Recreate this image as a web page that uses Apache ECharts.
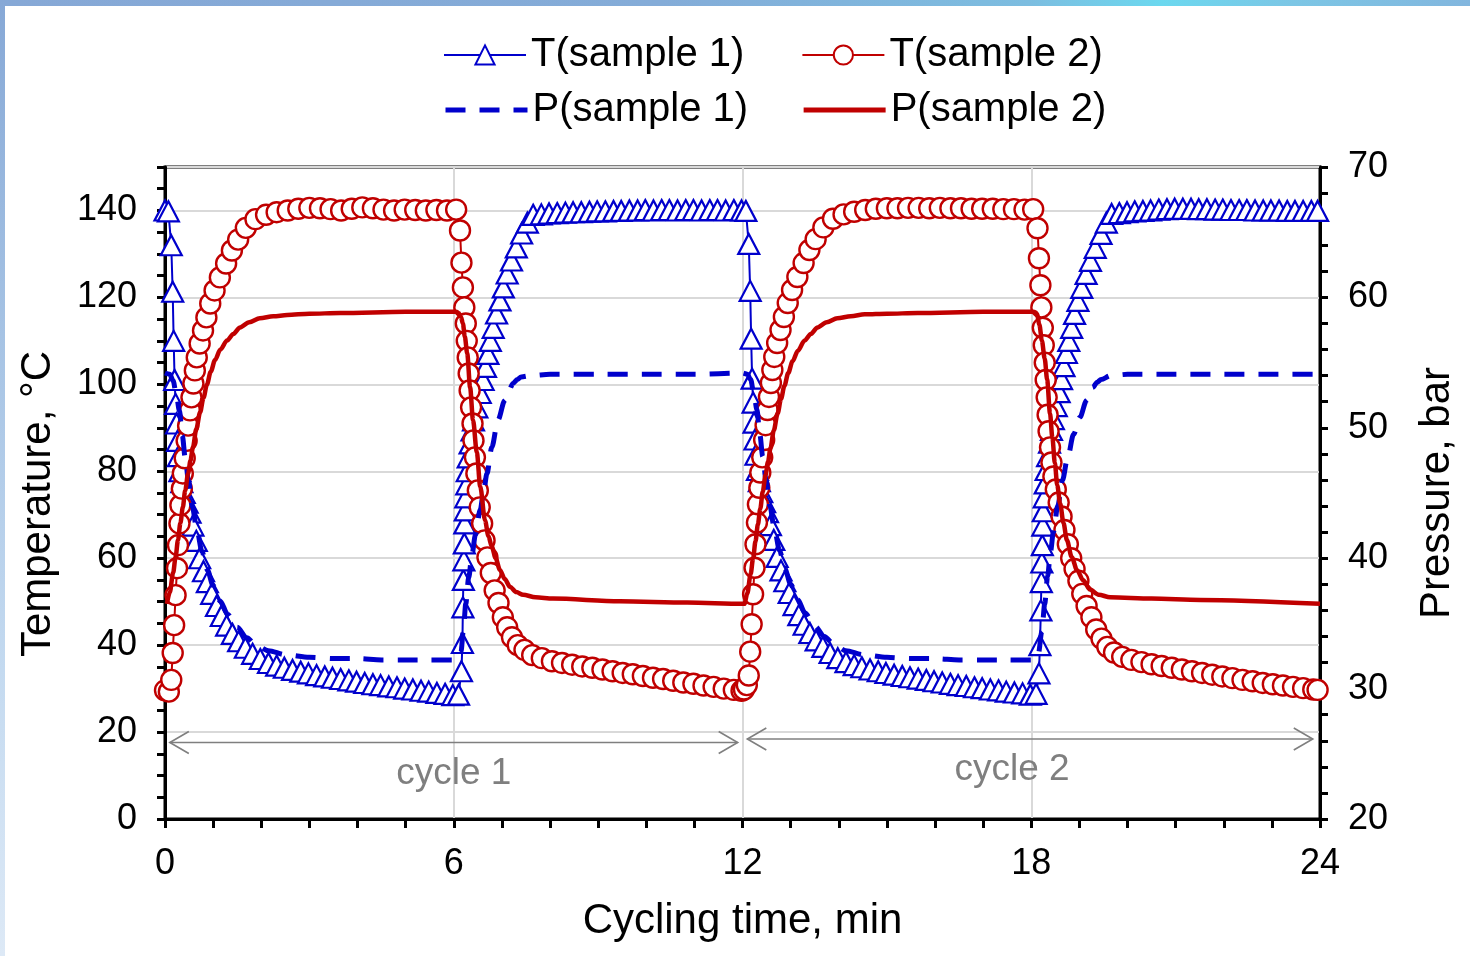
<!DOCTYPE html>
<html>
<head>
<meta charset="utf-8">
<title>Cycling test</title>
<script src="https://cdn.jsdelivr.net/npm/echarts@6/dist/echarts.min.js"></script>
<style>
  html, body { margin: 0; padding: 0; background: #fff; }
  #frame { position: relative; width: 1470px; height: 956px; overflow: hidden; background: #fff; }
  #topband { position: absolute; left: 0; top: 0; width: 1470px; height: 6px;
    background: linear-gradient(90deg, #86a8d6 0%, #84acd8 45%, #7cbde0 70%, #6bd8ef 79%, #7cc6e5 88%, #82b6de 100%); }
  #leftband { position: absolute; left: 0; top: 0; width: 5px; height: 956px;
    background: linear-gradient(180deg, #86a8d6 0%, #a6c3e4 35%, #c4daf0 70%, #dde9f6 100%); }
  #chart { position: absolute; left: 0; top: 0; width: 1470px; height: 956px; }
</style>
</head>
<body>
<div id="frame">
  <div id="topband"></div>
  <div id="leftband"></div>
  <div id="chart"></div>
</div>
<script>
// Temperature of sample 1, [time in min, °C]
const tempSample1 = [
  [0.00,140.0],[0.07,139.8],[0.13,132.0],[0.16,121.3],[0.18,110.0],[0.20,101.0],[0.22,95.5],[0.24,91.0],
  [0.26,87.0],[0.28,83.5],[0.31,80.0],[0.35,77.5],[0.40,75.0],[0.46,72.8],[0.52,70.5],[0.58,67.5],
  [0.65,64.0],[0.72,60.0],[0.80,57.0],[0.88,54.5],[0.97,51.8],[1.07,49.0],[1.17,46.7],[1.28,44.5],
  [1.40,42.6],[1.53,40.9],[1.67,39.4],[1.82,38.0],[1.98,36.8],[2.15,35.9],[2.32,35.3],[2.48,34.8],
  [2.65,34.3],[2.82,33.9],[2.98,33.5],[3.15,33.1],[3.32,32.8],[3.48,32.5],[3.65,32.2],[3.82,31.9],
  [3.98,31.6],[4.15,31.3],[4.32,31.0],[4.48,30.8],[4.65,30.5],[4.82,30.3],[4.98,30.0],[5.15,29.8],
  [5.32,29.5],[5.48,29.3],[5.65,29.0],[5.82,28.8],[5.98,28.5],
  [6.10,28.6],[6.16,34.0],[6.18,40.5],[6.19,48.7],[6.20,55.0],[6.21,59.5],[6.22,63.4],[6.23,68.0],
  [6.24,71.0],[6.25,74.0],[6.27,77.0],[6.28,80.0],[6.30,83.2],[6.34,86.4],[6.38,89.4],[6.41,91.7],
  [6.48,94.7],[6.55,98.0],[6.61,101.0],[6.66,104.0],[6.71,107.0],[6.76,110.0],[6.82,113.0],[6.89,116.3],
  [6.96,119.3],[7.03,122.3],[7.11,125.5],[7.20,128.5],[7.30,131.5],[7.41,134.7],[7.53,137.2],[7.65,139.0],
  [7.82,139.1],[7.98,139.3],[8.15,139.4],[8.32,139.5],[8.48,139.6],[8.65,139.6],[8.82,139.7],[8.98,139.8],
  [9.15,139.8],[9.32,139.9],[9.48,139.9],[9.65,140.0],[9.82,140.0],[9.98,140.1],[10.15,140.0],[10.32,140.1],
  [10.48,140.1],[10.65,140.0],[10.82,140.1],[10.98,140.1],[11.15,140.0],[11.32,140.1],[11.48,140.1],[11.65,140.0],
  [11.82,140.1],[11.98,140.0],
  [12.07,139.9],[12.13,132.3],[12.16,121.5],[12.18,110.5],[12.20,101.3],[12.22,95.8],[12.24,91.2],[12.26,87.3],
  [12.28,83.8],[12.31,80.3],[12.35,77.7],[12.40,75.2],[12.46,72.9],[12.52,70.6],[12.58,67.6],[12.65,64.2],
  [12.72,60.3],[12.80,57.2],[12.88,54.7],[12.97,52.0],[13.07,49.2],[13.17,46.9],[13.28,44.7],[13.40,42.8],
  [13.53,41.1],[13.67,39.6],[13.82,38.2],[13.98,37.0],[14.15,36.1],[14.32,35.4],[14.48,34.9],[14.65,34.4],
  [14.82,34.0],[14.98,33.6],[15.15,33.2],[15.32,32.9],[15.48,32.6],[15.65,32.3],[15.82,32.0],[15.98,31.7],
  [16.15,31.4],[16.32,31.1],[16.48,30.8],[16.65,30.6],[16.82,30.3],[16.98,30.1],[17.15,29.8],[17.32,29.6],
  [17.48,29.3],[17.65,29.1],[17.82,28.9],[17.98,28.6],
  [18.10,28.8],[18.16,33.5],[18.18,40.0],[18.20,48.0],[18.21,54.5],[18.22,59.0],[18.23,63.0],[18.24,67.5],
  [18.25,70.8],[18.27,74.0],[18.29,77.2],[18.31,80.3],[18.34,83.5],[18.38,86.6],[18.42,89.5],[18.46,92.0],
  [18.52,95.0],[18.58,98.2],[18.63,101.2],[18.68,104.2],[18.73,107.2],[18.78,110.0],[18.84,113.0],[18.90,116.2],
  [18.97,119.2],[19.05,122.2],[19.14,125.4],[19.23,128.4],[19.33,131.4],[19.45,134.6],[19.56,137.2],[19.67,139.2],
  [19.83,139.4],[19.99,139.6],[20.15,139.8],[20.32,139.9],[20.48,140.0],[20.65,140.2],[20.82,140.3],[20.98,140.4],
  [21.15,140.4],[21.32,140.4],[21.48,140.3],[21.65,140.3],[21.82,140.2],[21.98,140.2],[22.15,140.1],[22.32,140.1],
  [22.48,140.1],[22.65,140.0],[22.82,140.0],[22.98,140.0],[23.15,140.0],[23.32,139.9],[23.48,139.9],[23.65,139.9],
  [23.82,139.9],[23.95,139.9]
];

// Temperature of sample 2, [time in min, °C]
const tempSample2 = [
  [0.00,29.6],[0.08,29.3],[0.13,32.0],[0.16,38.2],[0.19,44.6],[0.22,51.5],[0.25,57.7],[0.27,63.0],
  [0.30,68.0],[0.32,72.2],[0.35,76.0],[0.37,79.5],[0.41,83.0],[0.45,87.0],[0.48,90.5],[0.52,94.0],
  [0.55,97.0],[0.59,100.2],[0.62,103.2],[0.66,106.2],[0.72,109.4],[0.79,112.4],[0.86,115.4],[0.94,118.6],
  [1.03,121.6],[1.14,124.6],[1.27,127.8],[1.39,130.8],[1.52,133.3],[1.68,136.0],[1.88,138.0],[2.10,139.0],
  [2.32,139.6],[2.55,140.0],[2.77,140.4],[3.00,140.6],[3.22,140.5],[3.44,140.3],[3.66,140.0],[3.88,140.4],
  [4.10,140.7],[4.32,140.5],[4.54,140.2],[4.76,140.0],[4.98,140.2],[5.20,140.1],[5.42,140.0],[5.64,140.1],
  [5.86,140.0],[6.05,140.2],
  [6.13,135.4],[6.16,128.0],[6.19,122.3],[6.22,117.7],[6.25,114.0],[6.27,110.0],[6.29,106.2],[6.31,102.5],
  [6.33,98.6],[6.36,94.7],[6.39,91.0],[6.41,87.1],[6.44,83.2],[6.47,79.5],[6.50,75.6],[6.54,71.7],
  [6.59,68.0],[6.64,64.1],[6.70,60.2],[6.77,56.6],[6.85,52.6],[6.93,49.7],[7.02,46.4],[7.11,44.1],
  [7.21,41.8],[7.33,40.0],[7.47,38.9],[7.63,37.7],[7.83,37.0],[8.04,36.3],[8.25,35.9],[8.46,35.5],
  [8.67,35.1],[8.88,34.8],[9.09,34.4],[9.30,34.0],[9.51,33.6],[9.72,33.3],[9.93,32.9],[10.14,32.5],
  [10.35,32.2],[10.56,31.8],[10.77,31.4],[10.98,31.1],[11.19,30.7],[11.40,30.4],[11.61,30.0],[11.82,29.7],
  [11.98,29.5],
  [12.03,29.8],[12.09,30.8],[12.13,33.0],[12.16,38.5],[12.19,44.8],[12.22,51.7],[12.25,57.8],[12.27,63.2],
  [12.30,68.2],[12.32,72.4],[12.35,76.2],[12.37,79.7],[12.41,83.2],[12.45,87.2],[12.48,90.6],[12.52,94.1],
  [12.55,97.1],[12.59,100.3],[12.62,103.3],[12.66,106.3],[12.72,109.5],[12.79,112.5],[12.86,115.5],[12.94,118.7],
  [13.03,121.7],[13.14,124.7],[13.27,127.9],[13.39,130.9],[13.52,133.4],[13.68,136.1],[13.88,138.1],[14.10,139.1],
  [14.32,139.7],[14.55,140.1],[14.77,140.4],[15.00,140.5],[15.22,140.5],[15.44,140.6],[15.66,140.6],[15.88,140.5],
  [16.10,140.6],[16.32,140.5],[16.54,140.5],[16.76,140.4],[16.98,140.4],[17.20,140.4],[17.42,140.3],[17.64,140.3],
  [17.86,140.2],[18.04,140.3],
  [18.13,135.9],[18.16,129.0],[18.19,122.8],[18.21,117.7],[18.24,113.0],[18.26,109.0],[18.28,105.0],[18.30,101.0],
  [18.32,97.0],[18.34,93.0],[18.36,89.2],[18.39,85.5],[18.42,82.0],[18.46,78.8],[18.51,75.8],[18.57,72.8],
  [18.63,69.6],[18.69,66.5],[18.76,63.2],[18.83,60.0],[18.90,57.5],[18.98,54.8],[19.06,51.8],[19.15,49.0],
  [19.25,46.4],[19.35,43.6],[19.46,41.5],[19.58,39.6],[19.72,38.3],[19.89,37.3],[20.08,36.6],[20.29,36.1],
  [20.50,35.6],[20.71,35.2],[20.92,34.8],[21.13,34.4],[21.34,34.0],[21.55,33.6],[21.76,33.2],[21.97,32.8],
  [22.18,32.4],[22.39,32.0],[22.60,31.7],[22.81,31.3],[23.02,31.0],[23.23,30.7],[23.44,30.4],[23.65,30.1],
  [23.86,29.8],[23.95,29.7]
];

// Pressure of sample 1, [time in min, bar]
const pressSample1 = [
  [0.00,54.2],[0.10,54.1],[0.17,53.6],[0.24,52.4],[0.30,51.3],[0.36,49.4],[0.42,47.7],[0.49,45.9],
  [0.57,43.9],[0.66,42.2],[0.77,40.5],[0.88,39.1],[1.00,37.9],[1.15,36.7],[1.30,35.7],[1.50,34.7],
  [1.70,33.9],[1.90,33.3],[2.15,32.9],[2.50,32.6],[3.00,32.4],[3.50,32.3],[4.00,32.3],[4.50,32.2],
  [5.00,32.2],[5.50,32.2],[6.00,32.2],
  [6.08,32.2],[6.15,32.8],[6.20,34.5],[6.25,36.5],[6.31,38.5],[6.38,40.3],[6.45,41.8],[6.55,43.7],
  [6.62,45.1],[6.69,46.5],[6.79,48.5],[6.92,50.6],[7.06,52.1],[7.15,52.9],[7.23,53.4],[7.32,53.7],
  [7.40,53.9],[7.60,54.0],[8.00,54.1],[9.00,54.1],[10.00,54.1],[11.00,54.1],[12.00,54.2],
  [12.10,54.1],[12.17,53.7],[12.24,52.5],[12.30,51.4],[12.36,49.5],[12.42,47.8],[12.49,46.0],[12.57,44.0],
  [12.66,42.3],[12.77,40.6],[12.88,39.2],[13.00,38.0],[13.15,36.8],[13.30,35.8],[13.50,34.8],[13.70,34.0],
  [13.90,33.4],[14.15,32.9],[14.50,32.6],[15.00,32.4],[15.50,32.3],[16.00,32.3],[16.50,32.2],[17.00,32.2],
  [17.50,32.2],[18.00,32.2],
  [18.08,32.2],[18.15,32.7],[18.22,34.4],[18.28,36.5],[18.34,38.6],[18.40,40.5],[18.46,42.0],[18.55,44.0],
  [18.65,46.0],[18.75,47.6],[18.88,49.5],[19.01,50.8],[19.15,52.1],[19.28,53.1],[19.37,53.5],[19.45,53.7],
  [19.65,54.0],[20.00,54.1],[21.00,54.1],[22.00,54.1],[23.00,54.1],[24.00,54.1]
];

// Pressure of sample 2, [time in min, bar]
const pressSample2 = [
  [0.04,36.5],[0.10,37.4],[0.17,38.9],[0.22,40.1],[0.27,41.4],[0.32,42.7],[0.37,43.9],[0.42,45.2],
  [0.48,46.5],[0.53,47.5],[0.58,48.5],[0.65,49.9],[0.73,51.2],[0.80,52.3],[0.87,53.3],[0.95,54.3],
  [1.04,55.2],[1.15,56.0],[1.29,56.7],[1.42,57.2],[1.56,57.7],[1.75,58.1],[1.97,58.4],[2.25,58.55],
  [2.54,58.65],[3.00,58.75],[3.64,58.8],[5.00,58.9],[6.05,58.9],
  [6.10,58.8],[6.15,58.5],[6.19,58.0],[6.23,57.0],[6.28,55.7],[6.34,53.1],[6.40,50.6],[6.48,48.1],
  [6.55,45.5],[6.65,42.9],[6.72,41.7],[6.79,40.9],[6.87,40.0],[6.96,39.1],[7.06,38.4],[7.17,37.8],
  [7.30,37.4],[7.44,37.2],[7.70,37.0],[8.06,36.9],[9.45,36.7],[10.85,36.6],[12.00,36.5],
  [12.04,36.5],[12.10,37.3],[12.17,38.8],[12.22,40.0],[12.27,41.3],[12.32,42.6],[12.37,43.8],[12.42,45.1],
  [12.48,46.4],[12.53,47.4],[12.58,48.4],[12.65,49.8],[12.73,51.1],[12.80,52.2],[12.87,53.2],[12.95,54.2],
  [13.04,55.1],[13.15,55.9],[13.29,56.7],[13.42,57.2],[13.56,57.7],[13.75,58.1],[13.97,58.4],[14.25,58.55],
  [14.54,58.7],[15.00,58.75],[15.64,58.8],[17.00,58.9],[18.05,58.9],
  [18.09,58.85],[18.12,58.7],[18.17,57.9],[18.22,56.7],[18.28,55.3],[18.33,53.7],[18.39,51.1],[18.44,49.2],
  [18.49,47.3],[18.54,45.6],[18.60,44.2],[18.67,42.7],[18.74,41.4],[18.84,40.1],[18.95,39.1],[19.08,38.3],
  [19.22,37.6],[19.40,37.2],[19.64,37.0],[20.50,36.9],[21.51,36.8],[24.00,36.5]
];

// Cycle annotations: [start, end] in min, label and where its text sits
const cycleNames = ['cycle 1', 'cycle 2'];
const cycleSpans = [[0.10, 11.90], [12.10, 23.85]];
const cycleLabelTimes = [6.0, 17.6];

const xTicks = [0, 6, 12, 18, 24];

const FONT = '"Liberation Sans", Arial, Helvetica, sans-serif';
const BLUE = '#0000cc';
const RED = '#c00000';
const GREY = '#7f7f7f';

const chart = echarts.init(document.getElementById('chart'), null, { renderer: 'canvas' });

const blackLine = { color: '#000', width: 3 };
const legendText = { fontSize: 40, color: '#000', fontFamily: FONT, lineHeight: 46 };

const option = {
  animation: false,
  backgroundColor: 'transparent',
  textStyle: { fontFamily: FONT },
  grid: {
    left: 165, right: 150, top: 167, bottom: 137,
    show: true, borderColor: '#000', borderWidth: 3, backgroundColor: 'transparent',
    containLabel: false, outerBoundsMode: 'none'
  },
  legend: [
    {
      data: ['T(sample 1)', 'T(sample 2)'],
      left: 438, top: 27, itemWidth: 82, itemHeight: 24, itemGap: 57,
      textStyle: legendText, selectedMode: false
    },
    {
      data: [
        { name: 'P(sample 1)', itemStyle: { opacity: 0 }, lineStyle: { width: 5 } },
        { name: 'P(sample 2)', itemStyle: { opacity: 0 }, lineStyle: { width: 5 } }
      ],
      left: 438, top: 82, itemWidth: 82, itemHeight: 24, itemGap: 53,
      textStyle: legendText, selectedMode: false
    }
  ],
  xAxis: {
    type: 'value', min: xTicks[0], max: xTicks[xTicks.length - 1], interval: 6,
    axisLine: { show: true, onZero: false, lineStyle: blackLine },
    axisTick: { show: true, inside: false, length: 9, lineStyle: blackLine },
    minorTick: { show: true, splitNumber: 6, length: 9, lineStyle: blackLine },
    splitLine: { show: true, lineStyle: { color: '#d9d9d9', width: 2 } },
    minorSplitLine: { show: false },
    axisLabel: { fontSize: 36, color: '#000', margin: 27, fontFamily: FONT },
    name: 'Cycling time, min', nameLocation: 'middle', nameGap: 81,
    nameTextStyle: { fontSize: 42, color: '#000', fontFamily: FONT }
  },
  yAxis: [
    {
      type: 'value', position: 'left', min: 0, max: 150, interval: 20,
      axisLine: { show: true, onZero: false, lineStyle: blackLine },
      axisTick: { show: true, inside: false, length: 8, lineStyle: blackLine },
      minorTick: { show: true, splitNumber: 4, length: 8, lineStyle: blackLine },
      splitLine: { show: true, lineStyle: { color: '#d9d9d9', width: 2 } },
      axisLabel: { fontSize: 36, color: '#000', margin: 28, fontFamily: FONT, showMaxLabel: false,
        formatter: v => (v % 20 === 0 ? String(v) : '') },
      name: 'Temperature, °C', nameLocation: 'middle', nameGap: 106, nameRotate: 90,
      nameTextStyle: { fontSize: 42, color: '#000', fontFamily: FONT, padding: [0, 22, 0, 0] }
    },
    {
      type: 'value', position: 'right', min: 20, max: 70, interval: 10,
      axisLine: { show: true, onZero: false, lineStyle: blackLine },
      axisTick: { show: true, inside: false, length: 8, lineStyle: blackLine },
      minorTick: { show: true, splitNumber: 5, length: 8, lineStyle: blackLine },
      splitLine: { show: false },
      axisLabel: { fontSize: 36, color: '#000', margin: 28, fontFamily: FONT },
      name: 'Pressure, bar', nameLocation: 'middle', nameGap: 96, nameRotate: 90,
      nameTextStyle: { fontSize: 42, color: '#000', fontFamily: FONT }
    }
  ],
  series: [
    {
      name: 'T(sample 1)', type: 'line', xAxisIndex: 0, yAxisIndex: 0,
      data: tempSample1, showAllSymbol: true,
      symbol: 'triangle', symbolSize: [21, 20],
      lineStyle: { color: BLUE, width: 2 },
      itemStyle: { color: '#fff', borderColor: BLUE, borderWidth: 2.2 },
      emphasis: { disabled: true }, z: 2
    },
    {
      name: 'T(sample 2)', type: 'line', xAxisIndex: 0, yAxisIndex: 0,
      data: tempSample2, showAllSymbol: true,
      symbol: 'circle', symbolSize: 20,
      lineStyle: { color: RED, width: 2 },
      itemStyle: { color: '#fff', borderColor: RED, borderWidth: 2.4 },
      emphasis: { disabled: true }, z: 3
    },
    {
      name: 'P(sample 1)', type: 'line', xAxisIndex: 0, yAxisIndex: 1,
      data: pressSample1, symbol: 'none', smooth: 0.3, smoothMonotone: 'x',
      lineStyle: { color: BLUE, width: 5, type: [20, 14] },
      itemStyle: { color: BLUE },
      emphasis: { disabled: true }, z: 4
    },
    {
      name: 'P(sample 2)', type: 'line', xAxisIndex: 0, yAxisIndex: 1,
      data: pressSample2, symbol: 'none', smooth: 0.3, smoothMonotone: 'x',
      lineStyle: { color: RED, width: 4.5 },
      itemStyle: { color: RED },
      emphasis: { disabled: true }, z: 5
    },
    {
      name: 'cycles', type: 'custom', xAxisIndex: 0, yAxisIndex: 0, z: 6,
      silent: true, clip: false,
      data: cycleSpans.map((s, i) => [s[0], s[1], cycleLabelTimes[i]]),
      renderItem: function (params, api) {
        const i = params.dataIndex;
        const arrowLevel = i === 0 ? 17.6 : 18.4;   // °C level of the span arrow
        const textLevel = i === 0 ? 10.5 : 11.4;    // °C level of the caption
        const p0 = api.coord([api.value(0), arrowLevel]);
        const p1 = api.coord([api.value(1), arrowLevel]);
        const pt = api.coord([api.value(2), textLevel]);
        const head = 19, half = 11;
        const stroke = { stroke: GREY, lineWidth: 1.6, fill: null };
        return {
          type: 'group',
          children: [
            { type: 'line', shape: { x1: p0[0], y1: p0[1], x2: p1[0], y2: p1[1] }, style: stroke },
            { type: 'polyline', shape: { points: [[p0[0] + head, p0[1] - half], [p0[0], p0[1]], [p0[0] + head, p0[1] + half]] }, style: stroke },
            { type: 'polyline', shape: { points: [[p1[0] - head, p1[1] - half], [p1[0], p1[1]], [p1[0] - head, p1[1] + half]] }, style: stroke },
            { type: 'text', style: { text: cycleNames[i], x: pt[0], y: pt[1], align: 'center', verticalAlign: 'middle',
                fontSize: 37, fill: GREY, fontFamily: FONT } }
          ]
        };
      }
    }
  ]
};

chart.setOption(option);
</script>
</body>
</html>
